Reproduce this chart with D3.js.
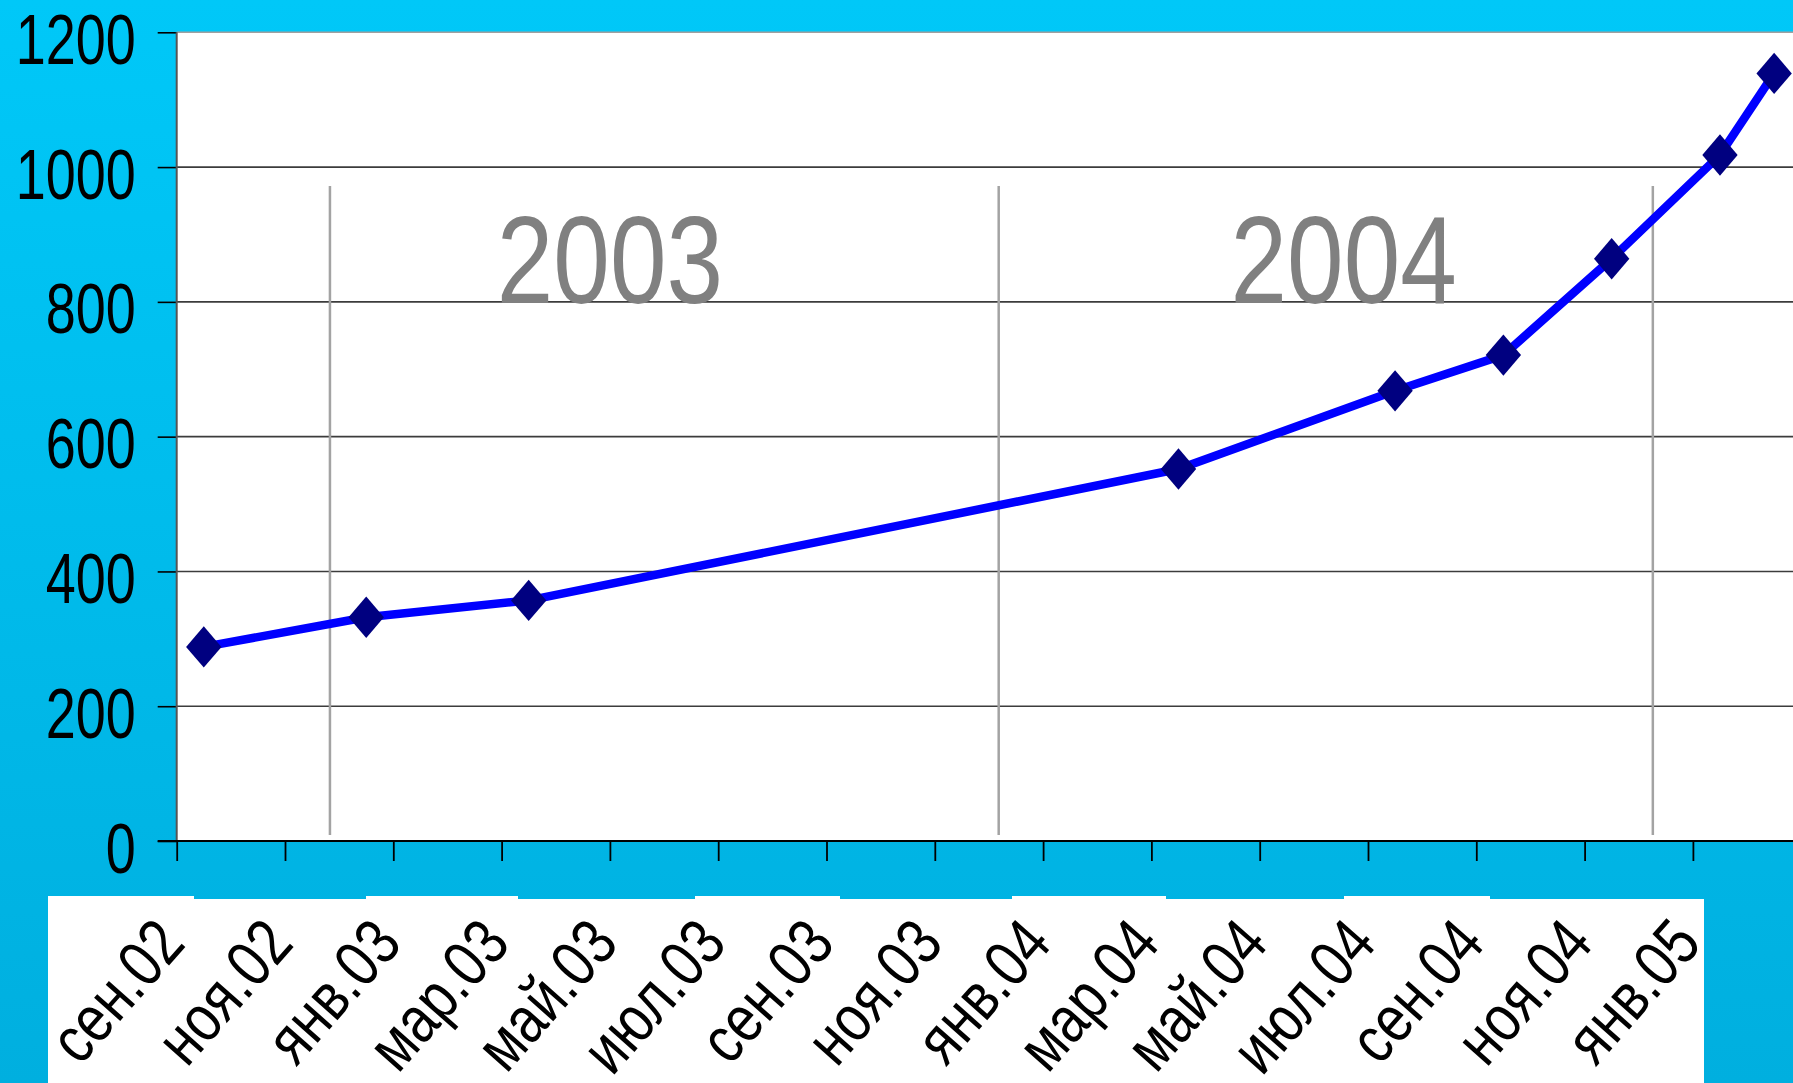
<!DOCTYPE html>
<html>
<head>
<meta charset="utf-8">
<script src="https://cdn.jsdelivr.net/npm/d3@7"></script>
<style>
  html, body { margin: 0; padding: 0; overflow: hidden; background: #00bde9; }
  svg { display: block; }
</style>
</head>
<body>
<svg id="chart"></svg>
<script>
// data
const months = ['2002-09', '2002-12', '2003-03', '2004-03', '2004-07', '2004-09', '2004-11', '2005-01', '2005-02'];
const values = [288, 332, 357, 552, 668, 721, 864, 1018, 1139];
const tickLabels = ['сен.02', 'ноя.02', 'янв.03', 'мар.03', 'май.03', 'июл.03', 'сен.03', 'ноя.03',
  'янв.04', 'мар.04', 'май.04', 'июл.04', 'сен.04', 'ноя.04', 'янв.05'];
const yTicks = [0, 200, 400, 600, 800, 1000, 1200];
const yearLabels = ['2003', '2004'];

const W = 1793;
const H = 1083;
const plotLeft = 176.7;
const plotTop = 32.3;
const plotBottom = 841;
const FONT = '"Liberation Sans", Arial, sans-serif';
const NARROW = 0.82; // squeeze to look like Arial Narrow

const startMonth = new Date(2002, 8, 1);
const parseMonth = d3.timeParse('%Y-%m');
const monthIndex = (s) => d3.timeMonth.count(startMonth, parseMonth(s)) + 0.5;

const points = months.map((m, i) => ({ m: monthIndex(m), v: values[i] }));

const x = d3.scaleLinear().domain([0, 30]).range([plotLeft, plotLeft + 30 * 54.15]);
const y = d3.scaleLinear().domain([0, 1200]).range([plotBottom, plotTop]);

const svg = d3.select('#chart').attr('width', W).attr('height', H);

// background gradient
const defs = svg.append('defs');
const grad = defs.append('linearGradient')
  .attr('id', 'bg').attr('x1', 0).attr('y1', 0).attr('x2', 0).attr('y2', 1);
grad.append('stop').attr('offset', 0).attr('stop-color', '#00c8f8');
grad.append('stop').attr('offset', 1).attr('stop-color', '#00afdf');
svg.append('rect').attr('width', W).attr('height', H).attr('fill', 'url(#bg)');

// white plot area
svg.append('rect')
  .attr('x', plotLeft).attr('y', plotTop)
  .attr('width', W - plotLeft).attr('height', plotBottom - plotTop)
  .attr('fill', '#ffffff');

// white box behind the month labels (slightly stepped top edge)
svg.append('rect')
  .attr('x', 48).attr('y', 899)
  .attr('width', 1704 - 48).attr('height', H - 899)
  .attr('fill', '#ffffff');
const steps = [[48, 194], [366, 518], [695, 840], [1012, 1166], [1344, 1490]];
svg.append('g')
  .selectAll('rect')
  .data(steps)
  .join('rect')
  .attr('x', (d) => d[0]).attr('y', 896)
  .attr('width', (d) => d[1] - d[0]).attr('height', 4)
  .attr('fill', '#ffffff');

// horizontal gridlines
svg.append('g')
  .selectAll('line')
  .data(yTicks.filter((t) => t > 0 && t < 1200))
  .join('line')
  .attr('x1', plotLeft).attr('x2', W)
  .attr('y1', (d) => y(d)).attr('y2', (d) => y(d))
  .attr('stroke', '#3c3c3c').attr('stroke-width', 1.6);

// top border
svg.append('line')
  .attr('x1', plotLeft).attr('x2', W)
  .attr('y1', y(1200)).attr('y2', y(1200))
  .attr('stroke', '#a0a0a0').attr('stroke-width', 1.5);

// year separators (grey verticals)
const separators = [2.83, 15.18, 27.26];
svg.append('g')
  .selectAll('line')
  .data(separators)
  .join('line')
  .attr('x1', (d) => x(d)).attr('x2', (d) => x(d))
  .attr('y1', y(972)).attr('y2', y(9))
  .attr('stroke', '#a3a3a3').attr('stroke-width', 2.5);

// year labels
const yearAt = [8.0, 21.55];
svg.append('g')
  .selectAll('text')
  .data(yearLabels)
  .join('text')
  .attr('transform', (d, i) => `translate(${x(yearAt[i])},${y(798)}) scale(${NARROW},1)`)
  .attr('text-anchor', 'middle')
  .attr('font-family', FONT)
  .attr('font-size', 124)
  .attr('fill', '#808080')
  .text((d) => d);

// y axis
const yAxis = svg.append('g')
  .attr('transform', `translate(${plotLeft},0)`)
  .call(d3.axisLeft(y).tickValues(yTicks).tickSize(19).tickFormat(d3.format('d')));
yAxis.select('.domain').remove();
yAxis.selectAll('.tick line').attr('stroke', '#000').attr('stroke-width', 1.6);
yAxis.selectAll('.tick text')
  .attr('x', null).attr('dy', null)
  .attr('text-anchor', 'end')
  .attr('transform', 'translate(-41,31) scale(0.77,1)')
  .attr('font-family', FONT)
  .attr('font-size', 70)
  .attr('fill', '#000');

// plot left border
svg.append('line')
  .attr('x1', plotLeft).attr('x2', plotLeft)
  .attr('y1', plotTop).attr('y2', plotBottom)
  .attr('stroke', '#555').attr('stroke-width', 2);

// x axis
const xAxis = svg.append('g')
  .attr('transform', `translate(0,${plotBottom})`)
  .call(d3.axisBottom(x)
    .tickValues(d3.range(0, 30, 2))
    .tickSize(20)
    .tickFormat((d, i) => tickLabels[i]));
xAxis.select('.domain').remove();
xAxis.selectAll('.tick line').attr('stroke', '#000').attr('stroke-width', 1.8);
xAxis.selectAll('.tick text')
  .attr('y', null).attr('dy', null)
  .attr('text-anchor', 'end')
  .attr('transform', `translate(10,${945 - plotBottom}) rotate(-48.6) scale(${NARROW},1)`)
  .attr('font-family', FONT)
  .attr('font-size', 66)
  .attr('fill', '#000');

svg.append('line')
  .attr('x1', plotLeft - 19).attr('x2', W)
  .attr('y1', plotBottom).attr('y2', plotBottom)
  .attr('stroke', '#000').attr('stroke-width', 2.2);

// series line
const line = d3.line().x((d) => x(d.m)).y((d) => y(d.v));
svg.append('path')
  .datum(points)
  .attr('d', line)
  .attr('fill', 'none')
  .attr('stroke', '#0000ff')
  .attr('stroke-width', 8.5)
  .attr('stroke-linejoin', 'round');

// diamond markers
const diamond = d3.symbol().type(d3.symbolSquare).size(25 * 25);
svg.append('g')
  .selectAll('path')
  .data(points)
  .join('path')
  .attr('transform', (d) => `translate(${x(d.m)},${y(d.v)}) scale(1,1.17) rotate(45)`)
  .attr('d', diamond)
  .attr('fill', '#000080');
</script>
</body>
</html>
